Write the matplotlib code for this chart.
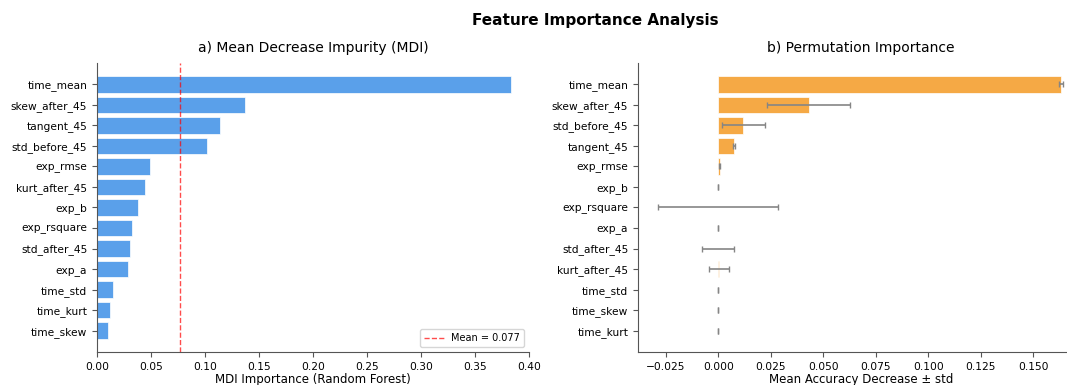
import numpy as np
import matplotlib
matplotlib.use("Agg")
import matplotlib.pyplot as plt

# MDI importances (random forest), sorted descending
mdi_features = ["time_mean", "skew_after_45", "tangent_45", "std_before_45", "exp_rmse",
                "kurt_after_45", "exp_b", "exp_rsquare", "std_after_45", "exp_a",
                "time_std", "time_kurt", "time_skew"]
mdi_values = [0.383, 0.137, 0.114, 0.102, 0.049, 0.044, 0.038, 0.032, 0.031, 0.029,
              0.015, 0.012, 0.010]

# permutation importances (mean accuracy decrease and std)
perm_features = ["time_mean", "skew_after_45", "std_before_45", "tangent_45", "exp_rmse",
                 "exp_b", "exp_rsquare", "exp_a", "std_after_45", "kurt_after_45",
                 "time_std", "time_skew", "time_kurt"]
perm_means = [0.1632, 0.0430, 0.0119, 0.0074, 0.0007, 0.0, 0.0, 0.0, 0.0, 0.0002,
              0.0, 0.0, 0.0]
perm_stds = [0.0010, 0.0196, 0.0103, 0.0005, 0.0003, 0.0, 0.0287, 0.0, 0.0077, 0.0048,
             0.0, 0.0, 0.0]

fig = plt.figure(figsize=(10.67, 3.85), dpi=100)
W, H = 1067, 385
ax1 = fig.add_axes([97 / W, 1 - 352 / H, (529 - 97) / W, (352 - 63) / H])
# right panel runs a little past the figure edge
ax2 = fig.add_axes([638 / W, 1 - 352 / H, (1084 - 638) / W, (352 - 63) / H])

# a) MDI
y1 = np.arange(len(mdi_features))
ax1.barh(y1, mdi_values, color="#5AA0EA", edgecolor="white", linewidth=0.5)
mean_mdi = np.mean(mdi_values)
ax1.axvline(mean_mdi, color="red", linestyle="--", linewidth=1, alpha=0.7,
            label=f"Mean = {mean_mdi:.3f}")
ax1.set_yticks(y1)
ax1.set_yticklabels(mdi_features)
ax1.invert_yaxis()
ax1.set_xlim(0, 0.40)
ax1.set_xlabel("MDI Importance (Random Forest)", fontsize=8.5, labelpad=1)
ax1.set_title("a) Mean Decrease Impurity (MDI)", fontsize=10, pad=8)
ax1.legend(loc="lower right", fontsize=7)

# b) permutation
y2 = np.arange(len(perm_features))
ax2.barh(y2, perm_means, xerr=perm_stds, color="#F5A945", edgecolor="white", linewidth=0.5,
         error_kw=dict(ecolor="#858585", capsize=2, elinewidth=1.2))
ax2.set_yticks(y2)
ax2.set_yticklabels(perm_features)
ax2.invert_yaxis()
ax2.set_xlim(-0.0382, 0.1742)
ax2.set_xticks([-0.025, 0.0, 0.025, 0.05, 0.075, 0.1, 0.125, 0.15])
ax2.set_xlabel("Mean Accuracy Decrease \u00b1 std", fontsize=8.5, labelpad=1)
ax2.set_title("b) Permutation Importance", fontsize=10, pad=8)

for ax in (ax1, ax2):
    ax.spines["top"].set_visible(False)
    ax.spines["right"].set_visible(False)
    ax.tick_params(labelsize=7.7, color="#555555")
    for s in ("left", "bottom"):
        ax.spines[s].set_color("#555555")

fig.suptitle("Feature Importance Analysis", fontsize=11, fontweight="bold",
             x=595 / W, y=1 - 20 / H, va="center")

plt.savefig("out.png", dpi=100)
